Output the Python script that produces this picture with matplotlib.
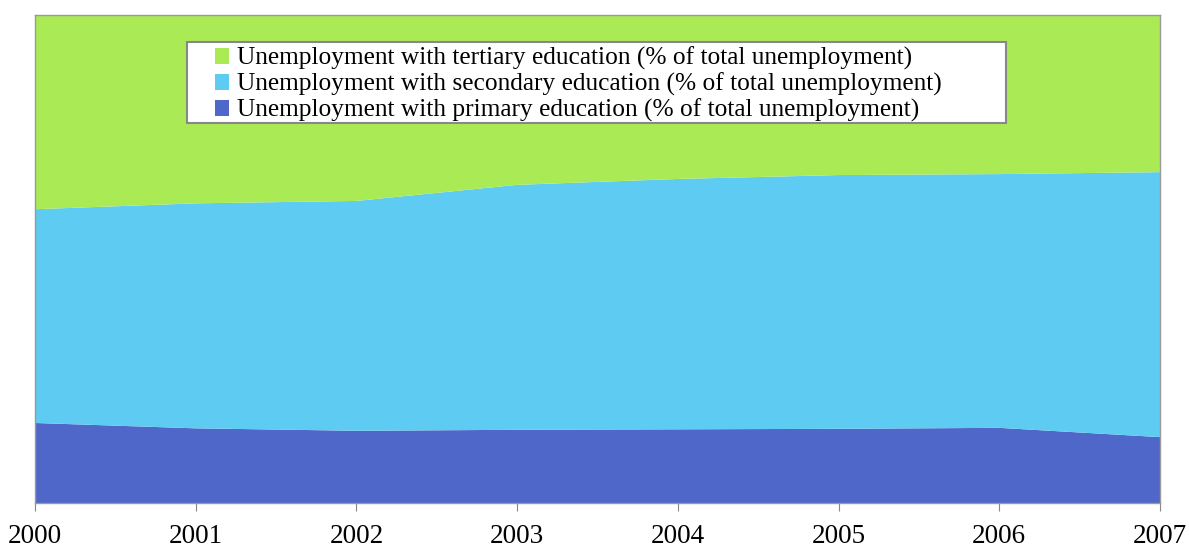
import matplotlib
matplotlib.use('Agg')
import matplotlib.pyplot as plt
from matplotlib.patches import Rectangle
import numpy as np

years = [2000, 2001, 2002, 2003, 2004, 2005, 2006, 2007]
# shares of total unemployment (%)
primary = [16.4, 15.3, 14.8, 15.0, 15.1, 15.2, 15.4, 13.5]
secondary = [43.8, 46.1, 47.1, 50.2, 51.3, 52.0, 52.0, 54.3]
tertiary = [39.8, 38.6, 38.1, 34.8, 33.6, 32.8, 32.6, 32.2]

labels = ['Unemployment with primary education (% of total unemployment)',
          'Unemployment with secondary education (% of total unemployment)',
          'Unemployment with tertiary education (% of total unemployment)']
colors = ['#4F67C8', '#5DCBF2', '#AAEB55']

plt.rcParams['font.family'] = ['Liberation Serif', 'DejaVu Serif']

W, H = 1189, 545

# 100% stacked
total = np.array(primary) + np.array(secondary) + np.array(tertiary)
series = [np.array(s) / total * 100 for s in (primary, secondary, tertiary)]

fig = plt.figure(figsize=(W / 100, H / 100), dpi=100)
ax = fig.add_axes([35 / W, 42 / H, 1125 / W, 488 / H])
ax.stackplot(years, *series, colors=colors, labels=labels, linewidth=0)

ax.set_xlim(2000, 2007)
ax.set_ylim(0, 100)
ax.set_xticks(years)
ax.set_xticklabels([str(y) for y in years], fontsize=19.5)
ax.set_yticks([])
ax.tick_params(axis='x', direction='out', length=6, color='#888888', pad=9)
for s in ax.spines.values():
    s.set_color('#999999')
    s.set_linewidth(1)

# legend box drawn by hand (wide padding like the original)
fig.patches.append(Rectangle((187 / W, 1 - 123 / H), 819 / W, 81 / H,
                             transform=fig.transFigure, facecolor='white',
                             edgecolor='#888888', linewidth=1.5, zorder=3))

h, l = ax.get_legend_handles_labels()
leg = fig.legend(h[::-1], l[::-1], loc='upper left',
                 bbox_to_anchor=(215 / W, 1 - 47 / H),
                 fontsize=18.3, frameon=False, handlelength=0.55,
                 handleheight=0.55, handletextpad=0.3, labelspacing=0.1,
                 borderpad=0, borderaxespad=0)
leg.set_zorder(4)

plt.savefig('out.png', dpi=100)
